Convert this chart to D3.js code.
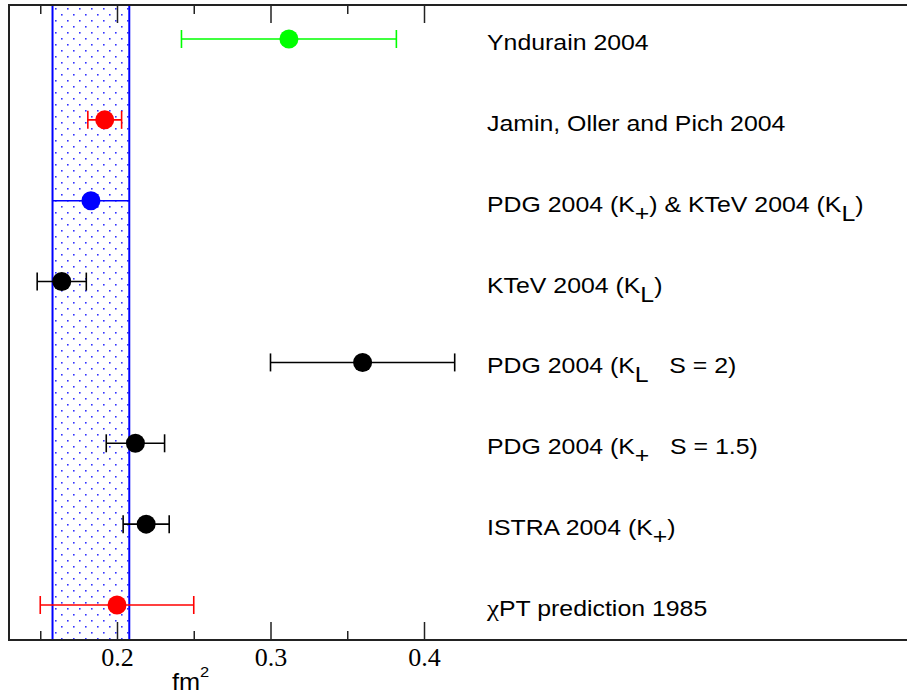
<!DOCTYPE html>
<html>
<head>
<meta charset="utf-8">
<script src="https://cdn.jsdelivr.net/npm/d3@7"></script>
<style>
  body { margin: 0; background: #fff; }
  svg { display: block; }
</style>
</head>
<body>
<svg id="chart" width="907" height="697"></svg>
<script>
// measurements, top to bottom (fm^2)
const labels = ['Yndurain 2004', 'Jamin, Oller and Pich 2004', 'PDG 2004 (K+) & KTeV 2004 (KL)',
  'KTeV 2004 (KL)', 'PDG 2004 (KL S = 2)', 'PDG 2004 (K+ S = 1.5)', 'ISTRA 2004 (K+)', 'chiPT prediction 1985']
const values = [0.312, 0.192, 0.183, 0.164, 0.360, 0.212, 0.219, 0.200]
const errors = [0.070, 0.011, 0.025, 0.016, 0.060, 0.019, 0.015, 0.050]
const colors = ['#00ff00', '#ff0000', '#0000ff', '#000000', '#000000', '#000000', '#000000', '#ff0000']
const caps = [true, true, false, true, true, true, true, true]
// average band
const band = [0.158, 0.208]
const majorTicks = [0.2, 0.3, 0.4]
const minorTicks = [0.15, 0.25, 0.35]

// label pieces: [text, 'sub' | 'greek' | undefined]
const labelParts = [
  [['Yndurain 2004']],
  [['Jamin, Oller and Pich 2004']],
  [['PDG 2004 (K'], ['+', 'sub'], [') & KTeV 2004 (K'], ['L', 'sub'], [')']],
  [['KTeV 2004 (K'], ['L', 'sub'], [')']],
  [['PDG 2004 (K'], ['L', 'sub'], ['   S = 2)']],
  [['PDG 2004 (K'], ['+', 'sub'], ['   S = 1.5)']],
  [['ISTRA 2004 (K'], ['+', 'sub'], [')']],
  [['\u03c7', 'greek'], ['PT prediction 1985']]
]

const svg = d3.select('#chart')
const plotLeft = 9
const plotRight = 912
const plotTop = 5
const plotBottom = 640

const x = d3.scaleLinear().domain([0.2, 0.4]).range([117, 424])
const y = d3.scalePoint().domain(labels).range([39, 605])

// dotted fill pattern for the band
const defs = svg.append('defs')
const pat = defs.append('pattern')
  .attr('id', 'dots')
  .attr('patternUnits', 'userSpaceOnUse')
  .attr('width', 12).attr('height', 12)
pat.append('rect').attr('x', 1).attr('y', 2).attr('width', 1.6).attr('height', 1.6).attr('fill', '#3333ff')
pat.append('rect').attr('x', 7).attr('y', 8).attr('width', 1.6).attr('height', 1.6).attr('fill', '#3333ff')

svg.append('rect')
  .attr('x', x(band[0])).attr('y', plotTop)
  .attr('width', x(band[1]) - x(band[0]))
  .attr('height', plotBottom - plotTop)
  .attr('fill', 'url(#dots)')

svg.selectAll('.band-edge')
  .data(band)
  .enter()
  .append('line')
  .attr('class', 'band-edge')
  .attr('x1', d => x(d)).attr('x2', d => x(d))
  .attr('y1', plotTop).attr('y2', plotBottom)
  .attr('stroke', '#0000ff')
  .attr('stroke-width', 2)

// axes
const bottomAxis = svg.append('g').attr('transform', `translate(0,${plotBottom})`)
bottomAxis.call(d3.axisBottom(x).tickValues(majorTicks).tickSizeInner(-18).tickSizeOuter(0).tickPadding(8).tickFormat(d3.format('.1f')))
const bottomMinor = svg.append('g').attr('transform', `translate(0,${plotBottom})`)
bottomMinor.call(d3.axisBottom(x).tickValues(minorTicks).tickSizeInner(-9).tickSizeOuter(0).tickFormat(''))
const topAxis = svg.append('g').attr('transform', `translate(0,${plotTop})`)
topAxis.call(d3.axisBottom(x).tickValues(majorTicks).tickSizeInner(18).tickSizeOuter(0).tickFormat(''))
const topMinor = svg.append('g').attr('transform', `translate(0,${plotTop})`)
topMinor.call(d3.axisBottom(x).tickValues(minorTicks).tickSizeInner(9).tickSizeOuter(0).tickFormat(''))

svg.selectAll('.domain').remove()
svg.selectAll('.tick line').attr('stroke', '#222').attr('stroke-width', 1.5)
bottomAxis.attr('font-family', '"Liberation Serif", "Times New Roman", serif').attr('font-size', 26)
bottomAxis.selectAll('.tick text')
  .attr('font-family', '"Liberation Serif", "Times New Roman", serif')
  .attr('font-size', 26)
  .attr('fill', '#000')

// frame
svg.append('path')
  .attr('d', `M${plotRight},${plotTop} H${plotLeft} V${plotBottom} H${plotRight}`)
  .attr('fill', 'none')
  .attr('stroke', '#222')
  .attr('stroke-width', 2)

// error bars
const rows = svg.selectAll('.row')
  .data(labels.map((l, i) => ({ label: l, v: values[i], e: errors[i], c: colors[i], cap: caps[i], parts: labelParts[i] })))
  .enter()
  .append('g')
  .attr('class', 'row')
  .attr('transform', d => `translate(0,${y(d.label)})`)

rows.append('line')
  .attr('x1', d => x(d.v - d.e)).attr('x2', d => x(d.v + d.e))
  .attr('y1', 0).attr('y2', 0)
  .attr('stroke', d => d.c)
  .attr('stroke-width', 1.6)

rows.filter(d => d.cap).selectAll('.cap')
  .data(d => [{ v: d.v - d.e, c: d.c }, { v: d.v + d.e, c: d.c }])
  .enter()
  .append('line')
  .attr('class', 'cap')
  .attr('x1', d => x(d.v)).attr('x2', d => x(d.v))
  .attr('y1', -9).attr('y2', 9)
  .attr('stroke', d => d.c)
  .attr('stroke-width', 1.6)

rows.append('circle')
  .attr('cx', d => x(d.v))
  .attr('cy', 0)
  .attr('r', 9.5)
  .attr('fill', d => d.c)

// labels
const txt = rows.append('text')
  .attr('transform', 'translate(487,11) scale(1.13,1)')
  .attr('font-family', '"Liberation Sans", Arial, sans-serif')
  .attr('font-size', 22)
  .attr('fill', '#000')
  .style('white-space', 'pre')

txt.each(function (d) {
  const t = d3.select(this)
  let shifted = 0
  d.parts.forEach(p => {
    const span = t.append('tspan').text(p[0])
    if (p[1] === 'sub') {
      span.attr('dy', 9).attr('font-size', 22)
      shifted = 9
    } else if (p[1] === 'greek') {
      span.attr('font-family', '"Liberation Serif", serif').attr('font-size', 24)
    } else if (shifted) {
      span.attr('dy', -shifted)
      shifted = 0
    }
  })
})

// axis title
const title = svg.append('text')
  .attr('transform', 'translate(172,690) scale(1.1,1)')
  .attr('font-family', '"Liberation Sans", Arial, sans-serif')
  .attr('font-size', 23)
  .attr('fill', '#000')
title.append('tspan').text('fm')
title.append('tspan').attr('dy', -13).attr('font-size', 15).text('2')
</script>
</body>
</html>
